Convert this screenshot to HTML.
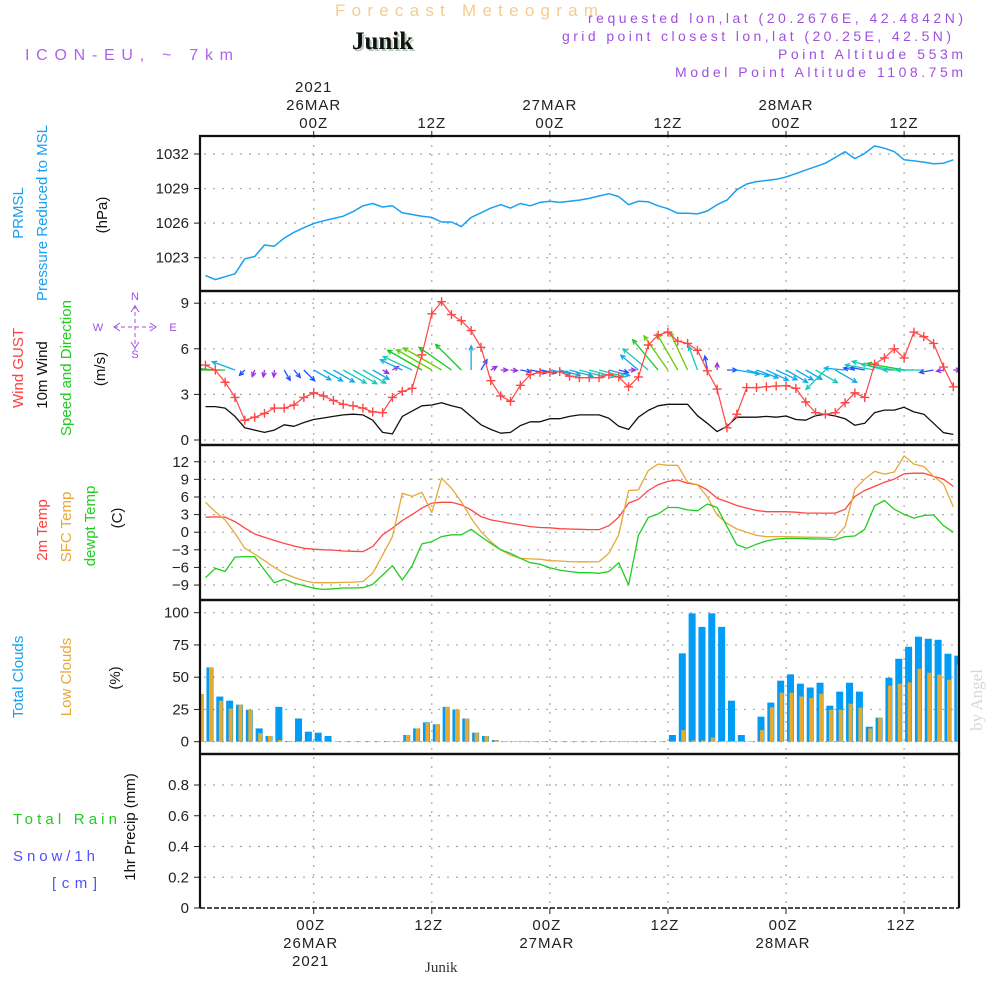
<!DOCTYPE html>
<html><head><meta charset="utf-8"><style>
html,body{margin:0;padding:0;background:#fff;}
svg{display:block;font-family:"Liberation Sans",sans-serif;}
</style></head><body>
<svg id="chart" width="1000" height="1000" viewBox="0 0 1000 1000" xmlns="http://www.w3.org/2000/svg">
<rect width="1000" height="1000" fill="#fff"/>
<!-- header -->
<text x="335" y="16" font-size="17" fill="#f3cd8e" textLength="263">Forecast Meteogram</text>
<text x="354" y="51" font-family="Liberation Serif,serif" font-weight="bold" font-size="25" fill="#b9cbb9">Junik</text>
<text x="352" y="49" font-family="Liberation Serif,serif" font-weight="bold" font-size="25" fill="#111">Junik</text>
<text x="25" y="60" font-size="16" fill="#b060f0" textLength="208">ICON-EU, ~ 7km</text>
<g fill="#a050e0" font-size="14" text-anchor="end">
<text x="963" y="23" textLength="375">requested lon,lat (20.2676E, 42.4842N)</text>
<text x="951" y="41" textLength="389">grid point closest lon,lat (20.25E, 42.5N)</text>
<text x="963" y="59" textLength="185">Point Altitude 553m</text>
<text x="963" y="77" textLength="288">Model Point Altitude 1108.75m</text>
</g>
<!-- left labels -->
<g font-size="15">
<text transform="translate(23,213) rotate(-90)" text-anchor="middle" fill="#1aa0f0">PRMSL</text>
<text transform="translate(47,213) rotate(-90)" text-anchor="middle" fill="#1aa0f0">Pressure Reduced to MSL</text>
<text transform="translate(107,215) rotate(-90)" text-anchor="middle" fill="#111">(hPa)</text>
<text transform="translate(23,368) rotate(-90)" text-anchor="middle" fill="#ff4040">Wind GUST</text>
<text transform="translate(47,375) rotate(-90)" text-anchor="middle" fill="#111">10m Wind</text>
<text transform="translate(71,368) rotate(-90)" text-anchor="middle" fill="#22cc22">Speed and Direction</text>
<text transform="translate(105,369) rotate(-90)" text-anchor="middle" fill="#111">(m/s)</text>
<text transform="translate(47,530) rotate(-90)" text-anchor="middle" fill="#ff4040">2m Temp</text>
<text transform="translate(71,527) rotate(-90)" text-anchor="middle" fill="#e8a838">SFC Temp</text>
<text transform="translate(95,526) rotate(-90)" text-anchor="middle" fill="#22cc22">dewpt Temp</text>
<text transform="translate(122,518) rotate(-90)" text-anchor="middle" fill="#111">(C)</text>
<text transform="translate(23,677) rotate(-90)" text-anchor="middle" fill="#1aa0f0">Total Clouds</text>
<text transform="translate(71,677) rotate(-90)" text-anchor="middle" fill="#e8a838">Low Clouds</text>
<text transform="translate(120,678) rotate(-90)" text-anchor="middle" fill="#111">(%)</text>
<text transform="translate(135,827) rotate(-90)" text-anchor="middle" fill="#111">1hr Precip (mm)</text>
<text x="13" y="824" fill="#22cc22" textLength="104">Total  Rain</text>
<text x="13" y="861" fill="#5050ff" textLength="82">Snow/1h</text>
<text x="52" y="888" fill="#5050ff" textLength="45">[cm]</text>
</g>
<g fill="#a050e0" font-size="11" text-anchor="middle">
<text x="135" y="300">N</text>
<text x="135" y="358">S</text><text x="98" y="331">W</text><text x="173" y="331">E</text>
<g stroke="#a050e0" stroke-width="1" fill="none">
<path d="M135,305V350 M114,327H156" stroke-dasharray="4,3"/>
<path d="M120,323L114,327L120,331 M150,323L156,327L150,331 M131,312L135,306L139,312 M131,342L135,348L139,342"/>
</g>
</g>
<text transform="translate(982,700) rotate(-90)" text-anchor="middle" font-family="Liberation Serif,serif" font-size="17" fill="#d2dcd2">by Angel</text>
<text x="425" y="972" font-family="Liberation Serif,serif" font-size="15" fill="#333">Junik</text>
<g id="layer"></g>
</svg>
<script>
// ---- data (hours from 2021-03-26 00Z) ----
const startHour = -11;
const pressure = [1021.45,1021.1,1021.35,1021.6,1022.9,1023.1,1024.1,1024.0,1024.7,1025.2,1025.6,1025.97,1026.2,1026.4,1026.6,1027.0,1027.5,1027.7,1027.4,1027.5,1026.9,1026.75,1026.6,1026.5,1026.1,1026.1,1025.7,1026.5,1026.9,1027.3,1027.6,1027.3,1027.7,1027.5,1027.8,1027.9,1027.8,1027.9,1028.0,
1028.15,1028.35,1028.55,1028.3,1027.6,1027.9,1027.85,1027.5,1027.25,1026.85,1026.85,1026.8,1027.05,1027.6,1028.0,1028.9,1029.4,1029.6,1029.7,1029.8,1030.0,1030.3,1030.6,1030.9,1031.2,1031.7,1032.2,1031.6,1032.05,1032.7,1032.5,1032.2,1031.5,1031.4,1031.3,1031.15,1031.2,1031.5];
const gust = [4.93,4.6,3.8,2.8,1.3,1.5,1.75,2.1,2.1,2.3,2.8,3.1,2.9,2.6,2.35,2.25,2.1,1.85,1.8,2.8,3.2,3.4,5.6,8.3,9.1,8.25,7.85,7.2,6.1,3.9,2.9,2.55,3.6,4.3,4.45,4.45,4.5,4.2,4.1,
4.1,4.1,4.3,4.15,3.5,4.15,6.25,6.9,7.1,6.5,6.35,5.9,4.55,3.35,0.8,1.7,3.45,3.45,3.5,3.55,3.57,3.4,2.5,1.8,1.7,1.8,2.45,3.1,2.8,5.0,5.4,6.0,5.4,7.1,6.8,6.35,4.8,3.5];
const wind10m = [2.2,2.2,2.1,1.55,0.8,0.65,0.5,0.65,1.0,0.9,1.15,1.35,1.45,1.55,1.65,1.7,1.65,1.3,0.5,0.4,1.55,1.9,2.25,2.3,2.45,2.25,2.1,1.55,1.0,0.7,0.45,0.5,0.95,1.2,1.2,1.4,1.4,1.55,1.65,
1.65,1.65,1.43,0.9,0.7,1.5,1.95,2.25,2.35,2.35,2.35,1.6,1.1,0.55,0.9,1.5,1.5,1.5,1.55,1.5,1.58,1.35,1.3,1.6,1.7,1.58,1.4,0.97,1.1,1.8,1.97,1.97,2.15,1.85,1.7,1.1,0.48,0.37];
const windDir = [100,95,90,110,45,20,10,5,330,320,315,300,300,300,300,300,300,300,300,240,115,115,120,120,120,125,135,180,210,240,270,275,280,280,280,280,285,285,285,
285,285,285,285,270,130,130,140,145,150,155,160,170,180,270,280,285,290,295,295,300,300,300,300,45,300,95,100,100,100,105,100,100,90,90,80,80,270];
const temp2m = [2.55,2.6,2.55,1.8,0.7,-0.3,-0.85,-1.4,-1.9,-2.35,-2.75,-2.9,-3.0,-3.05,-3.2,-3.25,-3.3,-2.45,-0.45,0.7,2.0,3.0,4.1,4.95,5.1,5.1,4.65,3.8,2.65,2.1,1.8,1.5,1.25,0.95,0.8,0.75,0.6,0.55,0.5,
0.45,0.45,1.1,2.55,4.95,5.6,7.1,8.1,8.65,8.9,8.35,8.1,7.2,5.8,5.2,4.55,4.1,3.7,3.5,3.5,3.5,3.4,3.25,3.25,3.25,3.25,3.9,6.1,7.1,7.8,8.5,9.05,9.95,10.05,10.05,9.5,9.05,7.8];
const tempSfc = [5.1,3.5,2.1,-0.2,-2.75,-3.75,-4.85,-6.0,-7.0,-7.7,-8.25,-8.6,-8.6,-8.6,-8.55,-8.5,-8.4,-7.0,-3.9,-0.75,6.65,6.1,6.8,3.35,9.2,7.5,5.2,2.4,0.1,-1.6,-3.0,-3.9,-4.45,-4.55,-4.6,-4.85,-4.9,-5.0,-5.05,
-5.05,-5.0,-3.6,-0.45,7.1,7.2,10.5,11.6,11.4,11.4,8.5,8.1,6.0,2.95,1.5,0.55,0.0,-0.55,-0.75,-0.75,-0.75,-0.8,-0.85,-0.87,-0.9,-0.9,0.95,7.35,9.05,10.35,9.9,10.25,13.0,11.6,11.2,9.5,8.2,4.35];
const dewpt = [-7.75,-6.15,-6.7,-4.25,-4.15,-4.15,-6.45,-8.6,-8.0,-8.7,-9.1,-9.55,-9.75,-9.65,-9.5,-9.5,-9.45,-8.9,-7.3,-5.7,-8.15,-5.7,-2.0,-1.6,-0.75,-0.45,-0.45,0.5,-0.75,-1.9,-3.0,-3.6,-4.45,-5.2,-5.45,-6.05,-6.45,-6.7,-6.9,
-6.9,-7.0,-6.7,-5.2,-9.0,-0.55,2.5,3.1,4.2,4.2,3.8,3.65,4.8,4.2,0.95,-2.15,-2.75,-2.05,-1.5,-1.15,-1.05,-1.05,-1.1,-1.15,-1.15,-1.3,-0.75,-0.65,0.5,4.5,5.4,3.9,3.05,2.4,2.85,2.95,1.1,0.0];
const cloudStartHour = -12;
const cloudTotal = [37,57.6,35,31.8,28.7,24.8,10.3,4.4,27,0.5,18,7.75,7,4.4,0.3,0.3,0.3,0.3,0.3,0.3,0.3,5.2,10.3,15,13.5,27,25,18,7,4.4,1.3,0.3,0.3,0.3,0.3,0.3,0.3,0.3,0.3,0.3,
0.3,0.3,0.3,0.3,0.3,0.3,0.3,0.3,5.2,68.5,99.5,89,99.5,89,31.8,5.2,0.3,19.4,30.3,47.3,52.2,45,42,45.7,27.9,38.8,45.7,38.8,11.6,18.6,49.6,64.3,73.6,81.4,79.8,79,68.2,66.7];
const cloudLow = [37,57.6,31.8,25.8,28.7,24.8,6.7,4.4,1.3,0.5,0.3,0.3,0.3,0.3,0.3,0.3,0.3,0.3,0.3,0.3,0.3,5.2,10.3,14.5,13.5,27,25,18,7,4.4,1.3,0.3,0.3,0.3,0.3,0.3,0.3,0.3,0.3,0.3,
0.3,0.3,0.3,0.3,0.3,0.3,0.3,0.3,0.5,9,1,1,3.3,0.5,0.5,0.5,0.3,9,26.6,38,38,35,34,37.2,24.8,24.8,29.5,26.4,10.3,18.6,43.4,44.9,46,56.6,53.5,52,48,59.7];
const precip = [];
const pressureTicks = [1023,1026,1029,1032];
const windTicks = [0,3,6,9];
const tempTicks = [-9,-6,-3,0,3,6,9,12];
const cloudTicks = [0,25,50,75,100];
const precipTicks = [0,0.2,0.4,0.6,0.8];
const timeMarks = [0,12,24,36,48,60];
const timeHourLabels = ["00Z","12Z","00Z","12Z","00Z","12Z"];
const timeDayLabels = ["26MAR","","27MAR","","28MAR",""];

// ---- axes ----
const X0=200, X1=959;
const x = h => 313.7 + h*9.84;
const yP = v => 154 + (1032-v)*11.52;
const yW = v => 440 - v*15.2;
const yT = v => 532.2 - v*5.87;
const yC = v => 741.7 - v*1.29;
const yR = v => 908 - v*153.75;
const panels=[[136,291],[291,445],[445,600],[600,754],[754,908]];

const NS="http://www.w3.org/2000/svg";
const layer=document.getElementById('layer');
function mk(tag,attrs,parent){const e=document.createElementNS(NS,tag);for(const k in attrs)e.setAttribute(k,attrs[k]);(parent||layer).appendChild(e);return e;}

const defs=mk('defs',{});
const cp=mk('clipPath',{id:'plotclip'},defs);
mk('rect',{x:X0,y:136,width:X1-X0,height:772},cp);

// grid
const grid=mk('g',{stroke:'#a8a8a8','stroke-width':1.2,'stroke-dasharray':'2,7'});


function hgrid(ticks,fy){ticks.forEach(t=>mk('line',{x1:X0+4,x2:X1,y1:fy(t),y2:fy(t)},grid));}
hgrid(pressureTicks,yP);hgrid(windTicks,yW);hgrid(tempTicks,yT);hgrid(cloudTicks,yC);hgrid(precipTicks.slice(1),yR);
timeMarks.forEach(h=>mk('line',{x1:x(h),x2:x(h),y1:136,y2:908},grid));

// tick labels
const tl=mk('g',{'font-size':15,fill:'#222','text-anchor':'end'});


function yticks(ticks,fy,fmt){ticks.forEach(t=>{const tx=mk('text',{x:189,y:fy(t)+5},tl);tx.textContent=fmt?fmt(t):String(t).replace('-','\u2212');mk('line',{x1:194,x2:200,y1:fy(t),y2:fy(t),stroke:'#222','stroke-width':1},tl);});}
yticks(pressureTicks,yP);yticks(windTicks,yW);yticks(tempTicks,yT);yticks(cloudTicks,yC);yticks(precipTicks,yR,t=>t===0?'0':t.toFixed(1));

// time labels
const tt=mk('g',{'font-size':15,fill:'#222','text-anchor':'middle','letter-spacing':'1'});


timeMarks.forEach((h,i)=>{
  let t=mk('text',{x:x(h),y:128},tt);t.textContent=timeHourLabels[i];
  if(timeDayLabels[i]){t=mk('text',{x:x(h),y:110},tt);t.textContent=timeDayLabels[i];}
  t=mk('text',{x:x(h)-3,y:930},tt);t.textContent=timeHourLabels[i];
  if(timeDayLabels[i]){t=mk('text',{x:x(h)-3,y:948},tt);t.textContent=timeDayLabels[i];}
  mk('line',{x1:x(h),x2:x(h),y1:131,y2:136,stroke:'#222'},tt);
  mk('line',{x1:x(h),x2:x(h),y1:908,y2:914,stroke:'#222'},tt);
});
let yr=mk('text',{x:x(0),y:92},tt);yr.textContent='2021';
yr=mk('text',{x:x(0)-3,y:966},tt);yr.textContent='2021';

const plot=mk('g',{'clip-path':'url(#plotclip)'});

// clouds
const cg=mk('g',{},plot);


cloudTotal.forEach((v,i)=>{const cx=x(cloudStartHour+i)+4.5;
  const b=mk('rect',{x:cx-3.5,y:yC(v),width:7,height:yC(0)-yC(v),fill:'#009cf5'},cg);
  
  
  const lv=cloudLow[i];
  const o=mk('rect',{x:cx-1,y:yC(lv),width:4,height:yC(0)-yC(lv),fill:'#e6aa30'},cg);
  
  
});

function line(arr,fy,color,name,w){
  const pts=arr.map((v,i)=>x(startHour+i).toFixed(1)+','+fy(v).toFixed(1)).join(' ');
  const p=mk('polyline',{points:pts,fill:'none',stroke:color,'stroke-width':w||1.3,'stroke-linejoin':'round'},plot);
  
  
  return p;
}
line(pressure,yP,'#1aa0f0','pressure-line',1.5);
line(wind10m,yW,'#111','wind-speed-line',1.3);

// wind arrows
const ag=mk('g',{},plot);


function spdColor(s){if(s<0.8)return '#9a30e0';if(s<1.25)return '#2050ff';if(s<1.6)return '#14a8e8';if(s<2.0)return '#18c8b8';if(s<2.3)return '#10cc20';return '#60d000';}
windDir.forEach((d,i)=>{
  const s=wind10m[i];const len=Math.max(7,22*s-10);
  const a=(90-(d+180))*Math.PI/180;
  const tx=x(startHour+i), ty=370;
  const hx=tx+len*Math.cos(a), hy=ty-len*Math.sin(a);
  const c=spdColor(s);
  const hl=5, ha=0.45;
  const p1x=hx-hl*Math.cos(a-ha), p1y=hy+hl*Math.sin(a-ha);
  const p2x=hx-hl*Math.cos(a+ha), p2y=hy+hl*Math.sin(a+ha);
  const ar=mk('path',{d:`M${tx},${ty}L${hx},${hy}M${p1x},${p1y}L${hx},${hy}L${p2x},${p2y}`,stroke:c,'stroke-width':1.3,fill:'none'},ag);
  
  
});

line(gust,yW,'#ff4545','wind-gust-line',1.2);
const gm=mk('g',{stroke:'#ff4545','stroke-width':1.4},plot);


gust.forEach((v,i)=>{const cx=x(startHour+i),cy=yW(v);
  const m=mk('path',{d:`M${cx-4.5},${cy}H${cx+4.5}M${cx},${cy-4.5}V${cy+4.5}`},gm);
  
  
});

line(temp2m,yT,'#ff4545','temp-2m-line');
line(tempSfc,yT,'#e8a838','temp-sfc-line');
line(dewpt,yT,'#22cc22','dewpoint-line');

const pb=mk('line',{x1:X0,x2:X1,y1:908,y2:908,stroke:'#111','stroke-width':1.5,'stroke-dasharray':'5,2'});



panels.forEach(([a,b],i)=>{
  const r=mk('path',{d:`M${X0},${b}V${a}H${X1}V${b}`+(i<4?`H${X0}`:''),fill:'none',stroke:'#111','stroke-width':2.2});
  
  
});
</script>
</body></html>
